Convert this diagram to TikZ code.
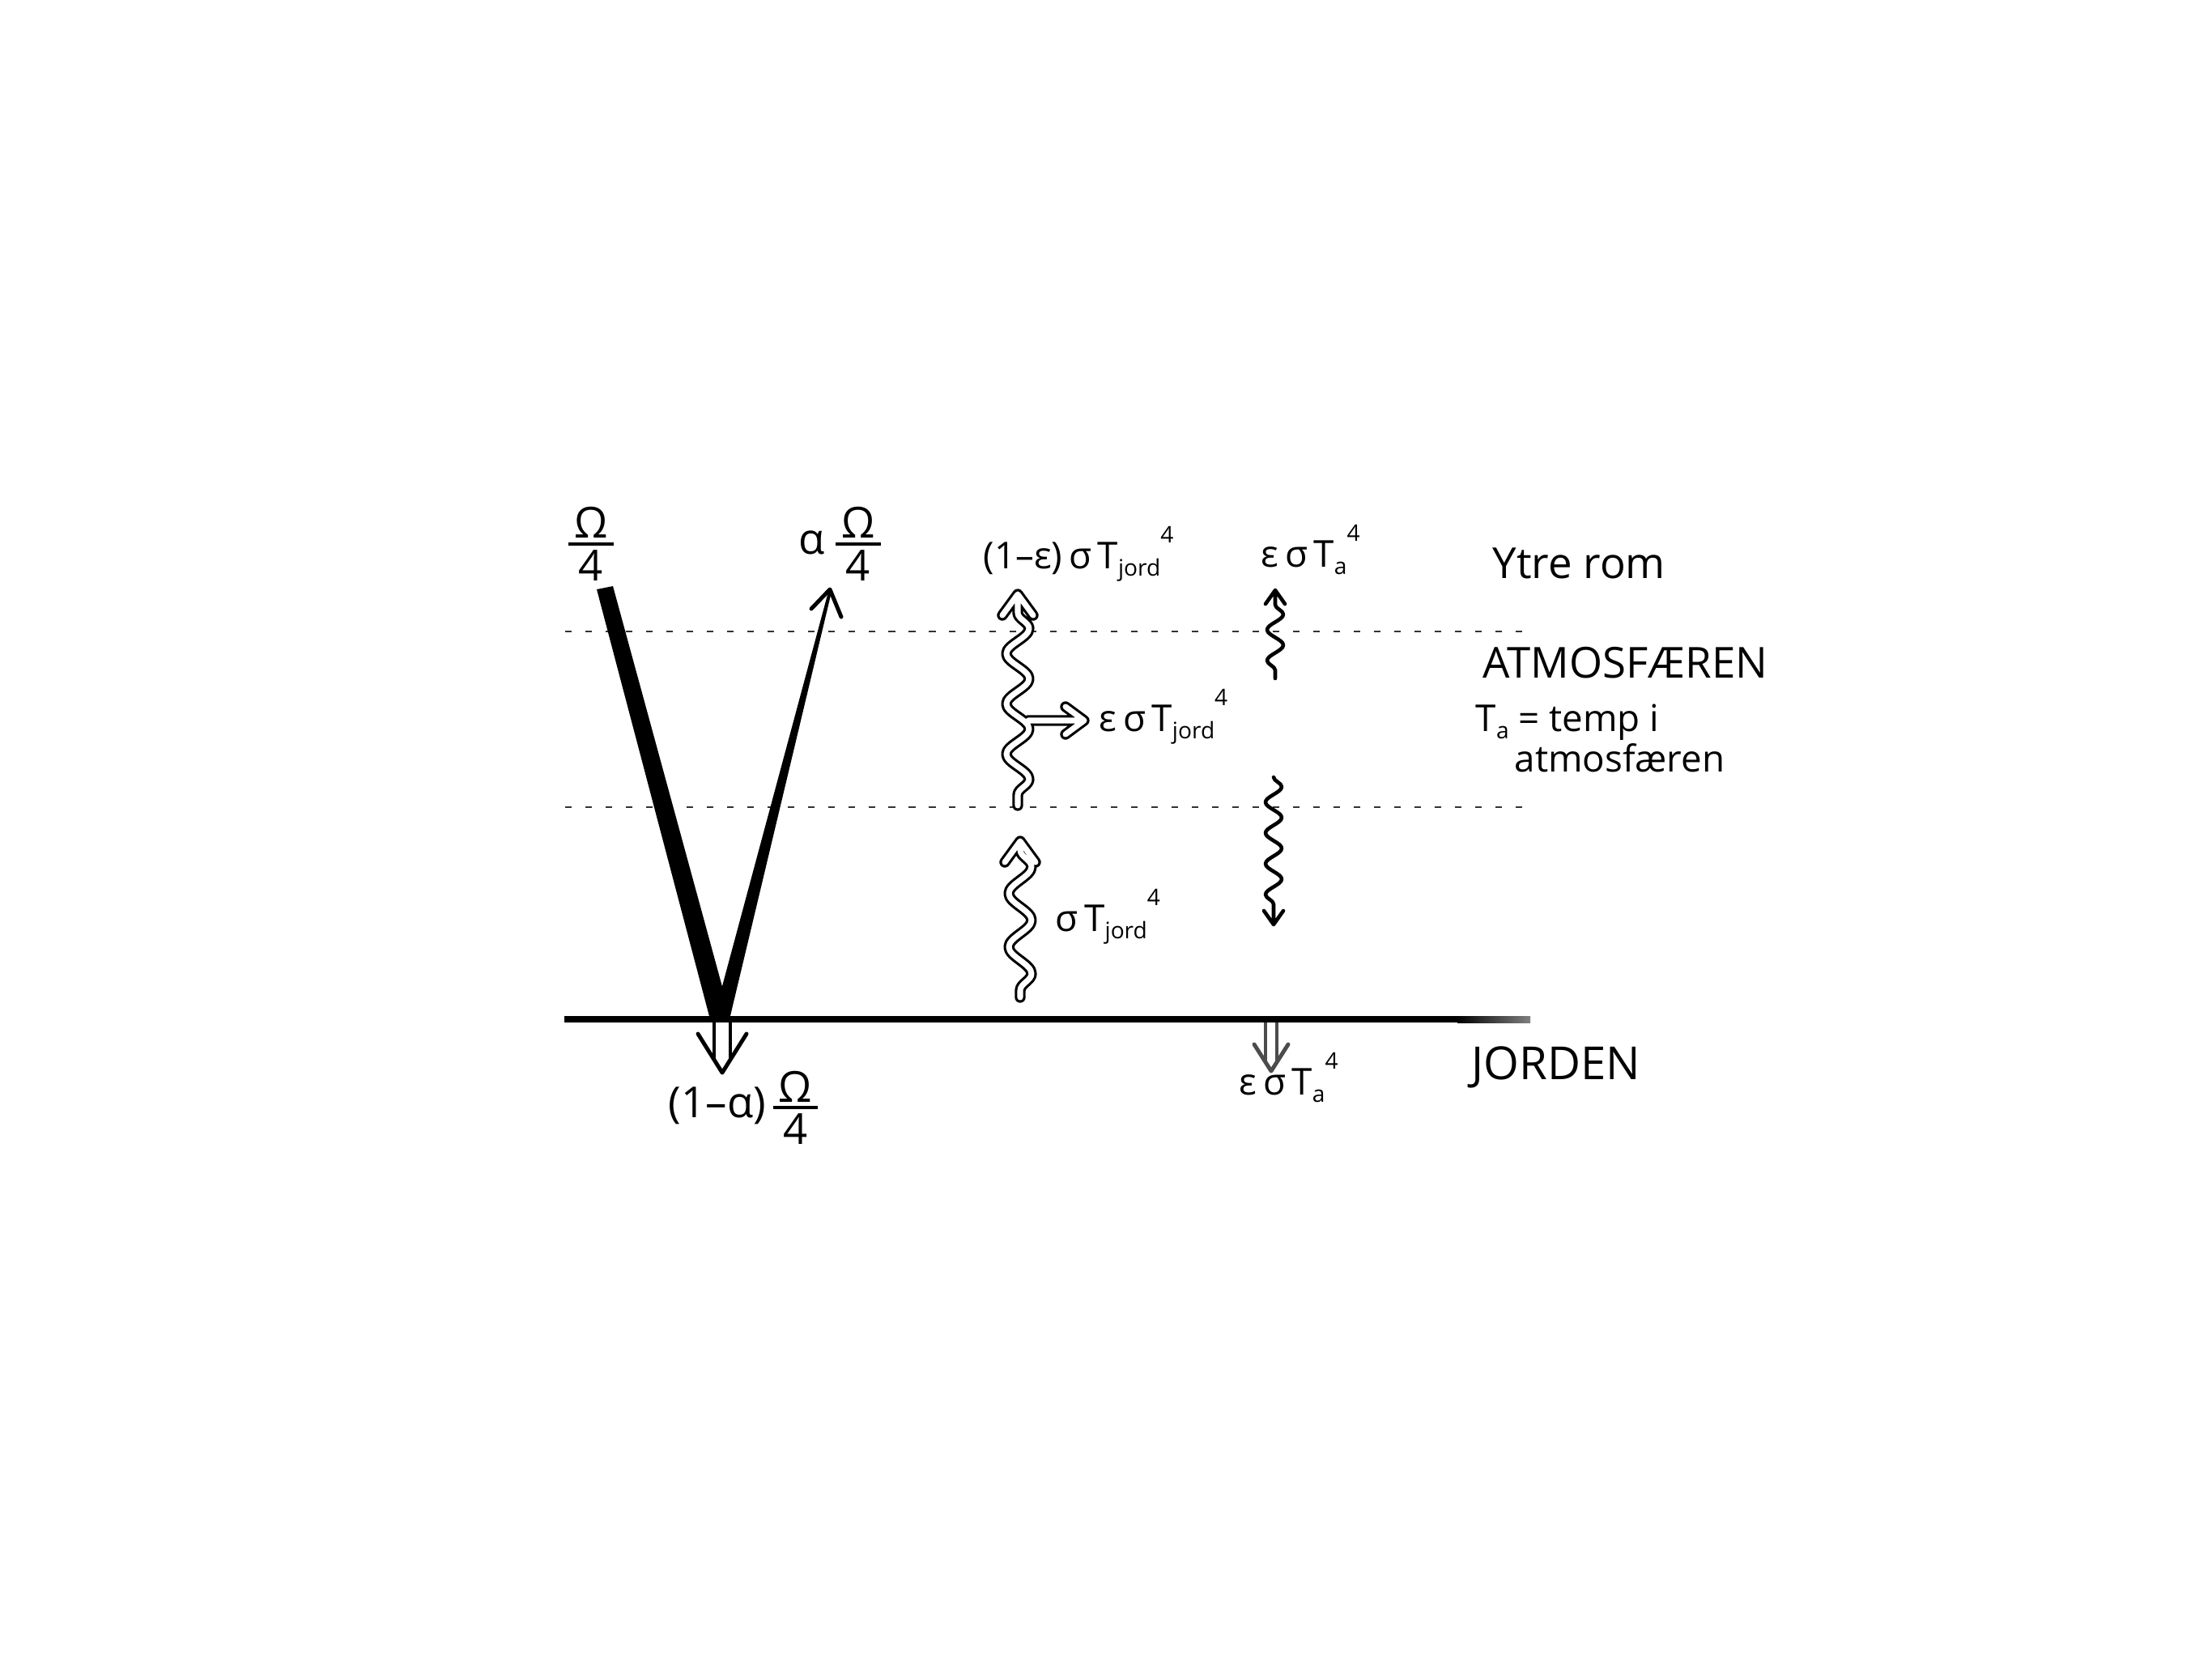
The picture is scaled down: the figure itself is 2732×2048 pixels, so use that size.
\documentclass[tikz,border=0pt]{standalone}
\usepackage{fontspec}
\setmainfont{Open Sans}
\usetikzlibrary{decorations.pathmorphing}
\newcommand\fs[1]{\fontsize{#1}{#1}\selectfont}
\newcommand\frc[2]{$\vcenter{\halign{\hfil\kern2pt##\kern2pt\hfil\cr #1\cr\noalign{\kern1.5pt\hrule height 1.1pt\kern1.5pt}#2\cr}}$}
\newcommand\sbs[1]{\raisebox{-0.4ex}{\fs{8}#1}}
\newcommand\pw{\raisebox{1.3ex}{\fs{8}4}}
\tikzset{
  layer/.style={draw=black!80, line width=0.6pt, dash pattern=on 2.3pt off 4.8pt},
  ground/.style={line width=2.3pt},
  hollow/.style={draw=black, double=white, line width=0.9pt, double distance=2pt, line join=round, line cap=round},
  wavy/.style={line width=1.3pt, line join=round, line cap=round},
  barb/.style={line width=1.4pt, line join=round, line cap=round},
  lbl/.style={inner sep=0pt, anchor=base west},
}
\begin{document}
\begin{tikzpicture}[x=0.01cm, y=-0.01cm]
\useasboundingbox (0,0) rectangle (2732,2048);
\fill[white] (0,0) rectangle (2732,2048);

% key points
\coordinate (apex) at (892,1259);
\coordinate (inTop) at (747,726);
\coordinate (outTip) at (1025,728);

% layer boundaries
\draw[layer] (698,780) -- (1890,780);
\draw[layer] (698,997) -- (1890,997);

% ground
\draw[ground] (697,1259) -- (1800,1259);
\shade[left color=black, right color=black!50] (1800,1255) rectangle (1890,1263);

% incoming solar radiation (thick bar)
\fill (737,728) -- (757,724) -- (903,1259) -- (877,1259) -- cycle;
% reflected
\fill (881,1259) -- (901,1259) -- (1027,731) -- (1023,731) -- cycle;
\draw[barb] (1002,752) -- (outTip) -- (1039,762);

% absorbed at surface (hollow down arrow)
\draw[line width=1pt] (882,1263) -- (882,1309) (902,1263) -- (902,1309);
\draw[barb] (862,1277) -- (892,1325) -- (922,1277);

% hollow wavy from atmosphere bottom to space, with branch
\draw[hollow] decorate[decoration={snake, amplitude=0.14cm, segment length=0.62cm}] {(1257,757) -- (1257,995)}
  (1257,757) -- (1257,738)
  (1238,760) -- (1257,734) -- (1276,760)
  (1270,890) -- (1336,890)
  (1316,873) -- (1339,890) -- (1316,907);

% hollow wavy from ground to atmosphere
\draw[hollow] decorate[decoration={snake, amplitude=0.14cm, segment length=0.66cm}] {(1260,1050) -- (1260,1232)}
  (1260,1050) -- (1260,1042)
  (1241,1065) -- (1260,1039) -- (1279,1065);

% atmosphere emission up
\draw[wavy] decorate[decoration={snake, amplitude=0.1cm, segment length=0.38cm}] {(1575,747) -- (1575,838)}
  (1575,747) -- (1575,730)
  (1563,746) -- (1575,729) -- (1587,746);

% atmosphere emission down
\draw[wavy] decorate[decoration={snake, amplitude=0.1cm, segment length=0.38cm}] {(1573,960) -- (1573,1124)}
  (1573,1124) -- (1573,1140)
  (1561,1125) -- (1573,1142) -- (1585,1125);

% absorbed at ground from atmosphere
\draw[black!70, line width=1pt] (1563,1263) -- (1563,1311) (1577,1263) -- (1577,1311);
\draw[barb, black!70] (1549,1290) -- (1570,1323) -- (1591,1290);

% labels
\node[inner sep=0pt] (linc) at (730,672) {\fs{15}\frc{Ω}{4}};
\node[inner sep=0pt] (lrefl) at (1037,672) {\fs{15}α\ \frc{Ω}{4}};
\node[inner sep=0pt] (labs) at (918,1368) {\fs{15}(1–α)\,\frc{Ω}{4}};
\node[lbl] (lspace) at (1214,702) {\fs{13}(1–ε)\,σ\,T\sbs{jord}\pw};
\node[lbl] (latmup) at (1557,700) {\fs{13}ε\,σ\,T\sbs{a}\pw};
\node[lbl] (latmabs) at (1357,903) {\fs{13}ε\,σ\,T\sbs{jord}\pw};
\node[lbl] (lground) at (1303,1150) {\fs{13}σ\,T\sbs{jord}\pw};
\node[lbl] (latmdown) at (1530,1352) {\fs{13}ε\,σ\,T\sbs{a}\pw};
\node[lbl] (ytre) at (1843,714) {\fs{15}Ytre rom};
\node[lbl] (atmo) at (1831,837) {\fs{15}ATMOSFÆREN};
\node[lbl] (ta) at (1822,903) {\fs{13}T\sbs{a} = temp i};
\node[lbl] (ta2) at (1870,953) {\fs{13}atmosfæren};
\node[lbl] (jord) at (1817,1333) {\fs{16}JORDEN};
\end{tikzpicture}
\end{document}
